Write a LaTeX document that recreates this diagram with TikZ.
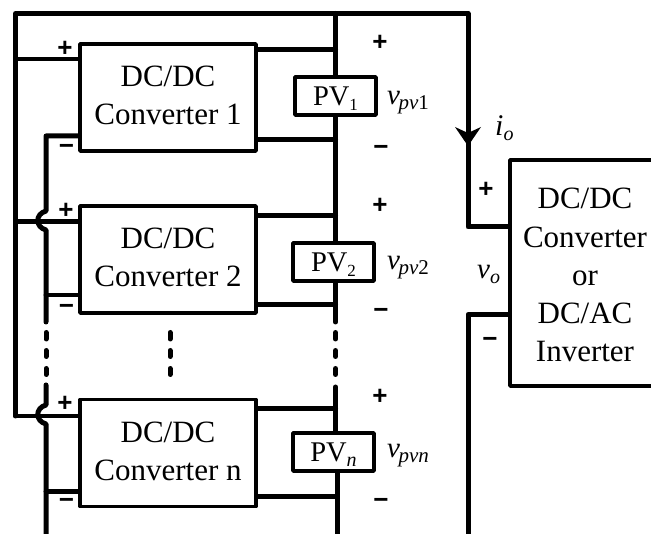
\documentclass[tikz,border=0pt]{standalone}
\usepackage{fontspec}
\setmainfont{Liberation Serif}
\newfontfamily\signfont{Liberation Sans}[BoldFont={* Bold}]
\newcommand{\fsz}[1]{\fontsize{#1}{#1}\selectfont}
\newcommand{\lowered}[2][21]{\raisebox{-5pt}{\fsz{#1}#2}}
\tikzset{
  wire/.style={line width=5pt,line cap=round,line join=round},
  thinwire/.style={line width=4.8pt,line cap=round,line join=round},
  dotwire/.style={line width=5pt,line cap=round},
  conv/.style={draw,line width=3.6pt,line join=round,fill=white,minimum width=176pt,minimum height=107pt,inner sep=0pt,align=center,text height=60pt,text depth=5pt,font=\fontsize{31}{38}\selectfont},
  pvbox/.style={draw,line width=3.6pt,line join=round,fill=white,minimum width=81pt,minimum height=38pt,inner sep=0pt,text height=24pt,text depth=4pt,font=\fsz{28.5}},
  sign/.style={font=\signfont\bfseries\fsz{26},inner sep=0pt},
  lab/.style={font=\itshape\fsz{29},inner sep=0pt,anchor=base west},
  outline/.style={draw,fill=white,line width=3.6pt,line join=round},
  outtext/.style={align=center,inner sep=0pt,anchor=base,font=\fontsize{31}{38.3}\selectfont}
}
\begin{document}
\begin{tikzpicture}[x=1pt,y=-1pt]
\useasboundingbox (0,0) rectangle (651,534);
% coordinates
\coordinate (tl) at (15.5,13.5);
\coordinate (tm) at (335.5,13.5);
\coordinate (tr) at (468,13.5);
\coordinate (ll) at (15.5,416);
\coordinate (hop1a) at (46,211);
\coordinate (hop1b) at (46,230);
\coordinate (hop2a) at (46,405);
\coordinate (hop2b) at (46,424);
\coordinate (pa) at (335.5,49.5);
\coordinate (pb) at (335.5,140);
\coordinate (pc) at (335.5,216);
\coordinate (pd) at (335.5,305);
\coordinate (pe) at (335.5,409);
\coordinate (pf) at (337,497);
% bus wires
\draw[wire] (ll) -- (tl) -- (tr) -- (468,227) -- (515,227);
\draw[wire] (515,314.5) -- (468,314.5) -- (468,540);
% + inputs
\draw[thinwire] (15.5,59) -- (90,59);
\draw[thinwire] (15.5,221.5) -- (90,221.5);
\draw[thinwire] (15.5,416) -- (90,416);
% - rail
\draw[wire] (90,136) -- (46,136) -- (hop1a) .. controls (35,214) and (35,227) .. (hop1b) -- (46,322);
\draw[thinwire] (46,295) -- (90,295);
\draw[wire] (46,385) -- (hop2a) .. controls (35,408) and (35,421) .. (hop2b) -- (46,540);
\draw[thinwire] (46,491.5) -- (90,491.5);
% right side wires
\draw[wire] (250,49.5) -- (pa);
\draw[wire] (250,140) -- (pb);
\draw[wire] (250,216) -- (pc);
\draw[wire] (250,305) -- (pd);
\draw[wire] (250,409) -- (pe);
\draw[wire] (250,497) -- (pf);
% converters
\node[conv] (c1) at (168,97.5) {DC/DC\\Converter 1};
\node[conv] (c2) at (168,259.5) {DC/DC\\Converter 2};
\node[conv] (cn) at (168,453) {DC/DC\\Converter n};
% PV
\node[pvbox] (p1) at (335.5,96) {PV\lowered[17]{1}};
\node[pvbox] (p2) at (333.5,262) {PV\lowered[17]{2}};
\node[pvbox] (pn) at (333.5,452) {PV\lowered[20]{\textit{n}}};
\draw[wire] (tm) -- (p1.north -| tm);
\draw[wire] (p1.south -| tm) -- (p2.north -| tm);
\draw[wire] (p2.south -| tm) -- (335.5,322);
\draw[wire] (335.5,387) -- (pn.north -| tm);
\draw[wire] (pn.south -| pf) -- (337,540);
% dots
\foreach \x in {46,170,335.5}{
  \draw[dotwire] (\x,332.5) -- (\x,339);
  \draw[dotwire] (\x,350.5) -- (\x,356.5);
  \draw[dotwire] (\x,368.5) -- (\x,374.5);
}
% arrow
\fill (468,146) -- (455,127) -- (468,133) -- (481,127) -- cycle;
% output box: its right side lies beyond the picture's edge
\draw[outline] (660,160) -- (510,160) -- (510,386) -- (660,386);
\node[outtext] (ot) at (585,362) {DC/DC\\Converter\\or\\DC/AC\\Inverter};
% signs
\node[sign] (s1) at (65,49) {+};
\node[sign] (s2) at (66.5,149) {−};
\node[sign] (s3) at (66,211) {+};
\node[sign] (s4) at (66.5,309) {−};
\node[sign] (s5) at (65,404) {+};
\node[sign] (s6) at (66.5,503) {−};
\node[sign] (r1) at (380,43) {+};
\node[sign] (r2) at (381,150) {−};
\node[sign] (r3) at (380,206) {+};
\node[sign] (r4) at (381,313) {−};
\node[sign] (r5) at (380,397) {+};
\node[sign] (r6) at (381,503) {−};
\node[sign] (r7) at (486,190) {+};
\node[sign] (r8) at (490,342) {−};
% labels
\node[lab] (v1) at (387,105) {v\kern-1.5pt\lowered{pv\upshape 1}};
\node[lab] (v2) at (387,270) {v\kern-1.5pt\lowered{pv\upshape 2}};
\node[lab] (vn) at (387,458) {v\kern-1.5pt\lowered{pvn}};
\node[lab] (io) at (495,136) {\fsz{30}i\lowered[20]{o}};
\node[lab] (vo) at (477,279) {v\lowered[20]{o}};
\end{tikzpicture}
\end{document}
